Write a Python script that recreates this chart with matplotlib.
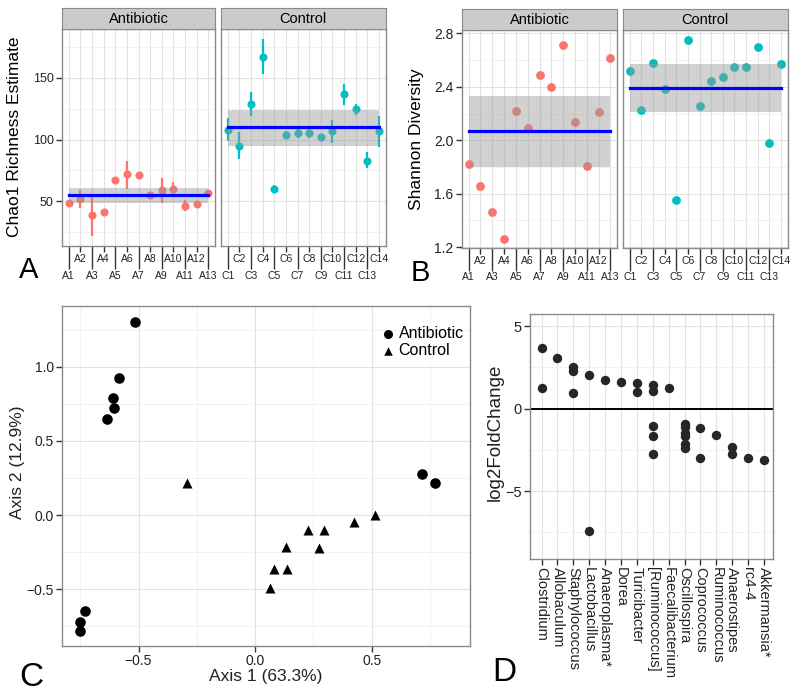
import matplotlib
matplotlib.use("Agg")
import matplotlib.pyplot as plt
import numpy as np

plt.rcParams["font.family"] = ["Liberation Sans", "DejaVu Sans"]

W, H = 800, 696
red = "#F8766D"
teal = "#00BFC4"
edge = "#8a8a8a"

# ---- data -------------------------------------------------------------
anti_ids = ["A1", "A2", "A3", "A4", "A5", "A6", "A7", "A8", "A9", "A10", "A11", "A12", "A13"]
ctrl_ids = ["C1", "C2", "C3", "C4", "C5", "C6", "C7", "C8", "C9", "C10", "C11", "C12", "C13", "C14"]

chao_anti = [48.4, 52, 38.7, 41.7, 67.3, 72, 71.5, 55, 59, 60, 46, 48, 57]
chao_anti_lo = [47, 45, 22, 40, 64, 60, 70, 54, 49, 54, 42, 47, 56]
chao_anti_hi = [50, 59, 55, 43, 70, 83, 73, 56, 69, 66, 51, 49, 58]
chao_ctrl = [107.8, 95, 129, 167, 60, 104, 105.6, 105.6, 102, 107, 137, 124.5, 83, 107]
chao_ctrl_lo = [99, 84, 119, 153, 57, 101, 101, 101, 100.5, 97, 128, 120, 77, 94]
chao_ctrl_hi = [117, 106, 138, 181, 63, 107, 110, 109, 103.5, 116, 145, 129, 90, 119]
chao_mean = [55, 109.7]
chao_band = [(49, 61), (95, 124)]

shannon_anti = [1.82, 1.658, 1.463, 1.264, 2.219, 2.094, 2.486, 2.396, 2.715, 2.139, 1.81, 2.209, 2.617]
shannon_ctrl = [2.518, 2.226, 2.578, 2.386, 1.551, 2.752, 2.256, 2.446, 2.471, 2.55, 2.548, 2.698, 1.977, 2.568]
shannon_mean = [2.069, 2.393]
shannon_band = [(1.80, 2.33), (2.214, 2.573)]

pc_anti_x = [-0.514, -0.583, -0.61, -0.606, -0.633, 0.714, 0.772, -0.731, -0.75, -0.75]
pc_anti_y = [1.302, 0.921, 0.786, 0.719, 0.649, 0.278, 0.218, -0.645, -0.723, -0.78]
pc_ctrl_x = [-0.293, 0.514, 0.424, 0.226, 0.293, 0.131, 0.274, 0.081, 0.136, 0.064]
pc_ctrl_y = [0.213, 0.0, -0.045, -0.097, -0.101, -0.213, -0.225, -0.366, -0.366, -0.49]

genera = ["Clostridium", "Allobaculum", "Staphylococcus", "Lactobacillus",
          "Anaeroplasma*", "Dorea", "Turicibacter", "[Ruminococcus]",
          "Faecalibacterium", "Oscillospira", "Coprococcus", "Ruminococcus",
          "Anaerostipes", "rc4-4", "Akkermansia*"]
otu_genus = [0, 0, 1, 2, 2, 2, 3, 3, 4, 5, 6, 6, 7, 7, 7, 7, 7, 8,
             9, 9, 9, 9, 9, 9, 10, 10, 11, 12, 12, 13, 14]
otu_lfc = [3.64, 1.27, 3.07, 2.52, 2.28, 0.95, 2.02, -7.42, 1.70, 1.59, 1.55, 1.03,
           1.45, 1.07, -1.03, -1.64, -2.73, 1.25,
           -0.95, -1.1, -1.5, -1.65, -2.15, -2.4, -1.17, -2.97, -1.62, -2.32, -2.73,
           -3.01, -3.11]


def px_axes(fig, x0, y0, x1, y1):
    return fig.add_axes([x0 / W, 1 - y1 / H, (x1 - x0) / W, (y1 - y0) / H])


def frame(ax):
    for s in ax.spines.values():
        s.set_color(edge)
        s.set_linewidth(1.0)
    ax.set_axisbelow(True)
    ax.grid(True, which="major", color="#e2e2e2", lw=0.8)
    ax.grid(True, which="minor", color="#f0f0f0", lw=0.6)
    ax.tick_params(which="minor", length=0)
    ax.tick_params(which="major", color="#333333", labelcolor="#222222")


def strip(fig, x0, y0, x1, title):
    sa = px_axes(fig, x0, y0 - 21, x1, y0)
    sa.set_facecolor("#cbcbcb")
    sa.set_xticks([])
    sa.set_yticks([])
    for s in sa.spines.values():
        s.set_color(edge)
    sa.text(0.5, 0.47, title, ha="center", va="center", fontsize=10.5,
            transform=sa.transAxes)


def facet(fig, box, title, labels, vals, color, mean, band, ylim, yticks, yminor,
          lo=None, hi=None, show_y=True, ysize=9, psize=34):
    ax = px_axes(fig, *box)
    strip(fig, box[0], box[1], box[2], title)
    x = np.arange(len(labels))
    if lo is not None:
        ax.vlines(x, lo, hi, color=color, lw=1.6, zorder=2)
    ax.scatter(x, vals, s=psize, color=color, lw=0, zorder=3)
    ax.fill_between([x[0], x[-1]], band[0], band[1], color="#999999", alpha=0.45,
                    lw=0, zorder=4)
    ax.plot([x[0], x[-1]], [mean, mean], color="#0000ff", lw=2.3, zorder=5)
    ax.set_xlim(-0.58, len(labels) - 0.42)
    ax.set_ylim(*ylim)
    ax.set_yticks(yticks)
    ax.set_yticks(yminor, minor=True)
    frame(ax)
    ax.tick_params(axis="y", length=4, width=1, labelsize=ysize, pad=2)
    if not show_y:
        ax.tick_params(axis="y", length=0, labelleft=False)
    ax.set_xticks(x)
    ax.set_xticklabels(labels)
    ax.tick_params(axis="x", length=4.5, width=1, pad=1.2, labelsize=7.5)
    # staggered labels: odd samples sit on a long tick in a lower row
    for i, t in enumerate(ax.xaxis.get_major_ticks()):
        if i % 2 == 0:
            t.set_pad(13.2)
            t.tick1line.set_markersize(16.8)
    return ax


fig = plt.figure(figsize=(W / 100, H / 100), dpi=100)

# ---- A: Chao1 ---------------------------------------------------------
chao_ylim = (14, 189)
facet(fig, (62, 29.3, 215, 246), "Antibiotic", anti_ids, chao_anti, red, chao_mean[0],
      chao_band[0], chao_ylim, [50, 100, 150], [25, 75, 125, 175],
      lo=chao_anti_lo, hi=chao_anti_hi)
facet(fig, (221, 29.3, 385.7, 246), "Control", ctrl_ids, chao_ctrl, teal, chao_mean[1],
      chao_band[1], chao_ylim, [50, 100, 150], [25, 75, 125, 175],
      lo=chao_ctrl_lo, hi=chao_ctrl_hi, show_y=False)
fig.text(15 / W, 1 - 137 / H, "Chao1 Richness Estimate", rotation=90, ha="center",
         va="center", fontsize=12.5)

# ---- B: Shannon -------------------------------------------------------
sh_ylim = (1.196, 2.825)
facet(fig, (461.7, 30, 617.3, 247.7), "Antibiotic", anti_ids, shannon_anti, red,
      shannon_mean[0], shannon_band[0], sh_ylim, [1.2, 1.6, 2.0, 2.4, 2.8],
      [1.4, 1.8, 2.2, 2.6], ysize=10, psize=40)
facet(fig, (623, 30, 787.7, 247.7), "Control", ctrl_ids, shannon_ctrl, teal,
      shannon_mean[1], shannon_band[1], sh_ylim, [1.2, 1.6, 2.0, 2.4, 2.8],
      [1.4, 1.8, 2.2, 2.6], show_y=False, psize=40)
fig.text(417 / W, 1 - 139 / H, "Shannon Diversity", rotation=90, ha="center",
         va="center", fontsize=12.5)

# ---- C: ordination ----------------------------------------------------
ax = px_axes(fig, 62, 306, 470, 646)
ax.scatter(pc_anti_x, pc_anti_y, marker="o", s=58, color="black", lw=0, label="Antibiotic")
ax.scatter(pc_ctrl_x, pc_ctrl_y, marker="^", s=52, color="black", lw=0, label="Control")
ax.set_xlim(-0.828, 0.921)
ax.set_ylim(-0.882, 1.409)
ax.set_xticks([-0.5, 0.0, 0.5])
ax.set_xticks([-0.75, -0.25, 0.25, 0.75], minor=True)
ax.set_yticks([-0.5, 0.0, 0.5, 1.0])
ax.set_yticks([-0.75, -0.25, 0.25, 0.75, 1.25], minor=True)
frame(ax)
ax.tick_params(which="major", length=4, width=1, labelsize=10, pad=2)
ax.legend(loc="upper right", bbox_to_anchor=(1.0, 0.96), frameon=False, fontsize=11.5,
          handlelength=0.7, handletextpad=0.3, labelspacing=0.15, borderaxespad=0.2,
          borderpad=0.2, markerscale=0.85)
fig.text(265.5 / W, 1 - 677 / H, "Axis 1 (63.3%)", ha="center", va="center",
         fontsize=12.5, color="#222222")
fig.text(17.5 / W, 1 - 462 / H, "Axis 2 (12.9%)", rotation=90, ha="center",
         va="center", fontsize=12.5, color="#222222")

# ---- D: fold change ---------------------------------------------------
ax = px_axes(fig, 530, 314, 773.3, 558.7)
ax.scatter(otu_genus, otu_lfc, s=46, color="#262626", lw=0, zorder=3)
ax.axhline(0, color="black", lw=1.4, zorder=2)
ax.set_xlim(-0.73, len(genera) - 0.41)
ax.set_ylim(-9.1, 5.73)
ax.set_yticks([-5, 0, 5])
ax.set_yticks([-7.5, -2.5, 2.5], minor=True)
frame(ax)
ax.set_xticks(np.arange(len(genera)))
ax.set_xticklabels(genera, rotation=-90, va="top", ha="center")
ax.tick_params(which="major", length=4, width=1, labelsize=10.5, pad=2)
fig.text(495 / W, 1 - 432 / H, "log2FoldChange", rotation=90, ha="center",
         va="center", fontsize=13.5, color="#222222")

# ---- panel letters ----------------------------------------------------
fig.text(19 / W, 1 - 278 / H, "A", fontsize=21, va="baseline")
fig.text(411 / W, 1 - 281 / H, "B", fontsize=21, va="baseline")
fig.text(19 / W, 1 - 686 / H, "C", fontsize=24, va="baseline")
fig.text(492 / W, 1 - 681 / H, "D", fontsize=24, va="baseline")

fig.savefig("out.png", dpi=100)
